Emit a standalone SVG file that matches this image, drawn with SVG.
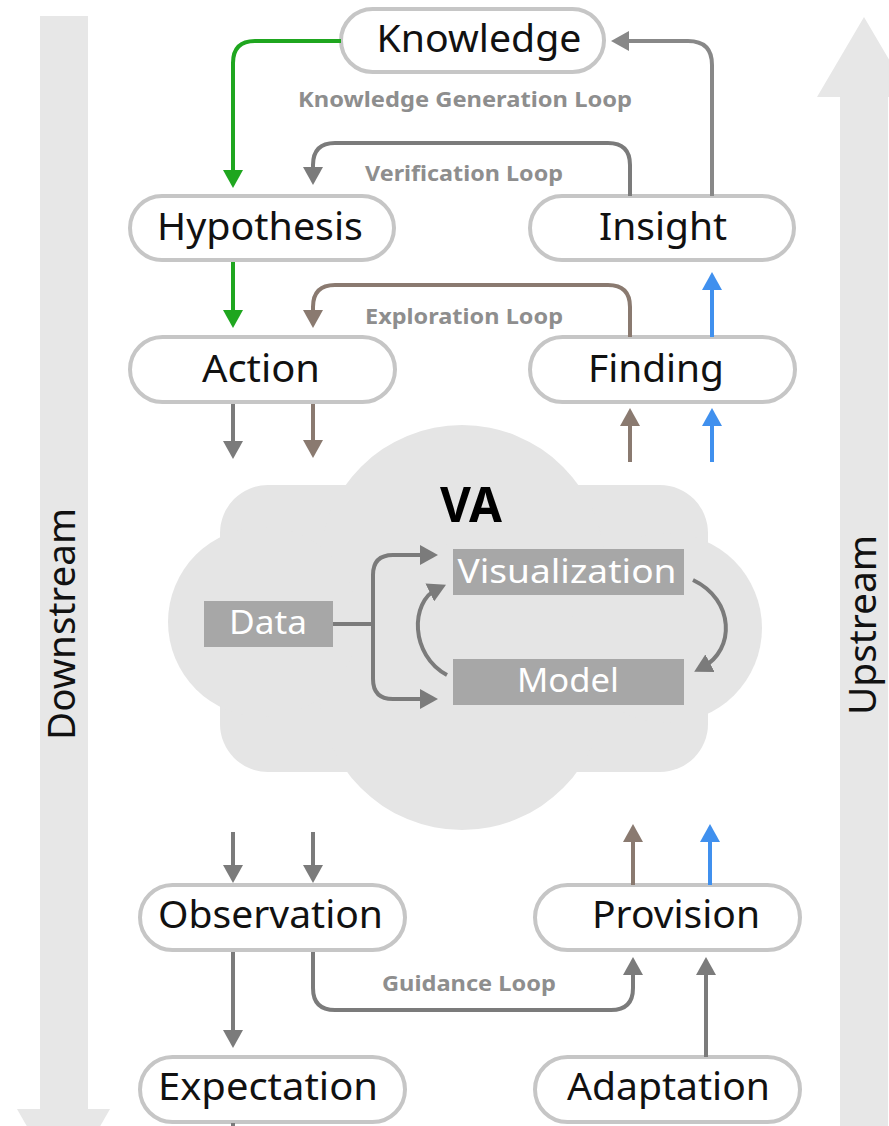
<svg xmlns="http://www.w3.org/2000/svg" width="889" height="1126" viewBox="0 0 889 1126">
  <defs>
    <style>
      .bar { fill: #e7e7e7; }
      .cloud { fill: #e5e5e5; }
      .node rect { fill: #ffffff; stroke: #c6c6c6; stroke-width: 4; }
      .node text { font-family: "Noto Sans", "DejaVu Sans", sans-serif; font-size: 38px; fill: #111111; text-anchor: middle; }
      .side { font-family: "Noto Sans", "DejaVu Sans", sans-serif; font-size: 38px; fill: #111111; text-anchor: middle; }
      .loop { font-family: "Noto Sans", "DejaVu Sans", sans-serif; font-size: 21px; font-weight: bold; fill: #8e8e8e; text-anchor: middle; }
      .box rect { fill: #a7a7a7; }
      .box text { font-family: "Noto Sans", "DejaVu Sans", sans-serif; font-size: 33px; fill: #ffffff; text-anchor: middle; }
      .va { font-family: "Noto Sans", "DejaVu Sans", sans-serif; font-size: 49px; font-weight: bold; fill: #000000; text-anchor: middle; }
      .edge { fill: none; stroke-width: 4; }
      .gray { stroke: #7b7b7b; }
      .lgray { stroke: #888888; }
      .green { stroke: #1fa61f; }
      .brown { stroke: #8a7a70; }
      .blue { stroke: #4090ee; }
    </style>
    <marker id="ah-gray" viewBox="0 0 18 20" markerWidth="18" markerHeight="20" refX="8" refY="10" orient="auto" markerUnits="userSpaceOnUse">
      <path d="M0,0 L18,10 L0,20 z" fill="#7b7b7b"/>
    </marker>
    <marker id="ah-lgray" viewBox="0 0 18 20" markerWidth="18" markerHeight="20" refX="8" refY="10" orient="auto" markerUnits="userSpaceOnUse">
      <path d="M0,0 L18,10 L0,20 z" fill="#888888"/>
    </marker>
    <marker id="ah-green" viewBox="0 0 18 20" markerWidth="18" markerHeight="20" refX="8" refY="10" orient="auto" markerUnits="userSpaceOnUse">
      <path d="M0,0 L18,10 L0,20 z" fill="#1fa61f"/>
    </marker>
    <marker id="ah-brown" viewBox="0 0 18 20" markerWidth="18" markerHeight="20" refX="8" refY="10" orient="auto" markerUnits="userSpaceOnUse">
      <path d="M0,0 L18,10 L0,20 z" fill="#8a7a70"/>
    </marker>
    <marker id="ah-blue" viewBox="0 0 18 20" markerWidth="18" markerHeight="20" refX="8" refY="10" orient="auto" markerUnits="userSpaceOnUse">
      <path d="M0,0 L18,10 L0,20 z" fill="#4090ee"/>
    </marker>
  </defs>

  <rect width="889" height="1126" fill="#ffffff"/>

  <!-- Downstream / Upstream side arrows -->
  <g id="downstream">
    <rect class="bar" x="40" y="16" width="48" height="1094"/>
    <polygon class="bar" points="17,1109 110,1109 63.5,1190"/>
    <text class="side" transform="translate(75,624) rotate(-90)" textLength="232" lengthAdjust="spacingAndGlyphs">Downstream</text>
  </g>
  <g id="upstream">
    <polygon class="bar" points="864,17 911,97 888,97 888,1126 840,1126 840,97 817,97"/>
    <text class="side" transform="translate(876,625) rotate(-90)" textLength="180" lengthAdjust="spacingAndGlyphs">Upstream</text>
  </g>

  <!-- Visual analytics cloud -->
  <g id="va">
    <g class="cloud">
      <rect x="220" y="485" width="488" height="287" rx="48"/>
      <circle cx="462" cy="568" r="143"/>
      <circle cx="462" cy="687" r="143"/>
      <circle cx="263" cy="622" r="95"/>
      <circle cx="667" cy="628" r="95"/>
    </g>
    <text class="va" x="471" y="522" textLength="62" lengthAdjust="spacingAndGlyphs">VA</text>
    <g id="data" class="box">
      <rect x="204" y="601" width="129" height="46"/>
      <text x="268" y="634" textLength="78" lengthAdjust="spacingAndGlyphs">Data</text>
    </g>
    <g id="visualization" class="box">
      <rect x="453" y="549" width="231" height="46"/>
      <text x="567" y="583" textLength="219" lengthAdjust="spacingAndGlyphs">Visualization</text>
    </g>
    <g id="model" class="box">
      <rect x="453" y="659" width="231" height="46"/>
      <text x="568" y="692" textLength="102" lengthAdjust="spacingAndGlyphs">Model</text>
    </g>
    <g id="va-links">
      <path class="edge gray" d="M333,624 H373"/>
      <path class="edge gray" d="M373,626 V575 Q373,555 393,555 H428" marker-end="url(#ah-gray)"/>
      <path class="edge gray" d="M373,622 V679 Q373,699 393,699 H428" marker-end="url(#ah-gray)"/>
      <path class="edge gray" d="M693,580 C735,600 735,650 703,667" marker-end="url(#ah-gray)"/>
      <path class="edge gray" d="M447,675 C410,655 410,602 437,589" marker-end="url(#ah-gray)"/>
    </g>
  </g>

  <!-- Nodes -->
  <g id="knowledge" class="node">
    <rect x="341" y="9" width="263" height="63" rx="31.5"/>
    <text x="479" y="52" textLength="205" lengthAdjust="spacingAndGlyphs">Knowledge</text>
  </g>
  <g id="hypothesis" class="node">
    <rect x="130" y="196" width="264" height="64" rx="32"/>
    <text x="260" y="240" textLength="206" lengthAdjust="spacingAndGlyphs">Hypothesis</text>
  </g>
  <g id="insight" class="node">
    <rect x="530" y="196" width="264" height="64" rx="32"/>
    <text x="663" y="240" textLength="128" lengthAdjust="spacingAndGlyphs">Insight</text>
  </g>
  <g id="action" class="node">
    <rect x="130" y="337" width="265" height="65" rx="32.5"/>
    <text x="261" y="382" textLength="118" lengthAdjust="spacingAndGlyphs">Action</text>
  </g>
  <g id="finding" class="node">
    <rect x="530" y="337" width="265" height="65" rx="32.5"/>
    <text x="656" y="382" textLength="136" lengthAdjust="spacingAndGlyphs">Finding</text>
  </g>
  <g id="observation" class="node">
    <rect x="140" y="885" width="265" height="65" rx="32.5"/>
    <text x="270.5" y="928" textLength="225" lengthAdjust="spacingAndGlyphs">Observation</text>
  </g>
  <g id="expectation" class="node">
    <rect x="140" y="1057" width="265" height="65" rx="32.5"/>
    <text x="268" y="1100" textLength="220" lengthAdjust="spacingAndGlyphs">Expectation</text>
  </g>
  <g id="provision" class="node">
    <rect x="535" y="885" width="265" height="65" rx="32.5"/>
    <text x="676" y="928" textLength="168" lengthAdjust="spacingAndGlyphs">Provision</text>
  </g>
  <g id="adaptation" class="node">
    <rect x="535" y="1057" width="265" height="65" rx="32.5"/>
    <text x="668.5" y="1100" textLength="203" lengthAdjust="spacingAndGlyphs">Adaptation</text>
  </g>

  <!-- Connectors -->
  <g id="connectors">
    <path class="edge green" d="M341,41 H255 Q233,41 233,63 V178" marker-end="url(#ah-green)"/>
    <path class="edge green" d="M233,262 V318" marker-end="url(#ah-green)"/>
    <path class="edge lgray" d="M712,196 V65 Q712,41 688,41 H621" marker-end="url(#ah-lgray)"/>
    <path class="edge gray" d="M630,196 V165 Q630,143 608,143 H335 Q313,143 313,165 V175" marker-end="url(#ah-gray)"/>
    <path class="edge brown" d="M630,337 V307 Q630,285 608,285 H335 Q313,285 313,307 V318" marker-end="url(#ah-brown)"/>
    <path class="edge blue" d="M712,337 V282" marker-end="url(#ah-blue)"/>
    <path class="edge gray" d="M233,404 V449" marker-end="url(#ah-gray)"/>
    <path class="edge brown" d="M313,404 V448" marker-end="url(#ah-brown)"/>
    <path class="edge brown" d="M630,462 V418" marker-end="url(#ah-brown)"/>
    <path class="edge blue" d="M712,462 V418" marker-end="url(#ah-blue)"/>
    <path class="edge gray" d="M233,832 V873" marker-end="url(#ah-gray)"/>
    <path class="edge gray" d="M313,832 V873" marker-end="url(#ah-gray)"/>
    <path class="edge brown" d="M633,885 V834" marker-end="url(#ah-brown)"/>
    <path class="edge blue" d="M710,885 V834" marker-end="url(#ah-blue)"/>
    <path class="edge gray" d="M233,952 V1038" marker-end="url(#ah-gray)"/>
    <path class="edge gray" d="M313,952 V988 Q313,1010 335,1010 H611 Q633,1010 633,988 V967" marker-end="url(#ah-gray)"/>
    <path class="edge gray" d="M706,1057 V967" marker-end="url(#ah-gray)"/>
    <path class="edge gray" d="M233,1123 V1126"/>
  </g>

  <!-- Loop labels -->
  <g id="loop-labels">
    <text class="loop" x="465" y="107" textLength="334" lengthAdjust="spacingAndGlyphs">Knowledge Generation Loop</text>
    <text class="loop" x="464" y="181" textLength="198" lengthAdjust="spacingAndGlyphs">Verification Loop</text>
    <text class="loop" x="464" y="324" textLength="198" lengthAdjust="spacingAndGlyphs">Exploration Loop</text>
    <text class="loop" x="469" y="991" textLength="174" lengthAdjust="spacingAndGlyphs">Guidance Loop</text>
  </g>
</svg>
